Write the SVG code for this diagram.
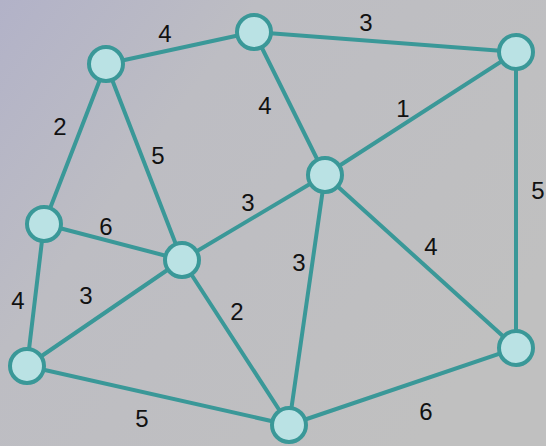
<svg xmlns="http://www.w3.org/2000/svg" width="546" height="446" viewBox="0 0 546 446">
<defs>
<linearGradient id="bg" x1="0" y1="0" x2="1" y2="0.6">
<stop offset="0" stop-color="#b2b2c8"/>
<stop offset="0.35" stop-color="#bdbdc3"/>
<stop offset="1" stop-color="#c0c0c0"/>
</linearGradient>
<style>
.e{stroke:#3a9898;stroke-width:4;fill:none;stroke-linecap:round}
.n{fill:#bae2e4;stroke:#3a9898;stroke-width:4}
.l{font-family:"Liberation Sans",Arial,sans-serif;font-size:24px;fill:#111;text-anchor:middle}
</style>
</defs>
<rect width="546" height="446" fill="url(#bg)"/>
<g id="connectors">
<line class="e" x1="106" y1="64" x2="254" y2="32"/>
<line class="e" x1="254" y1="32" x2="516" y2="52"/>
<line class="e" x1="106" y1="64" x2="44" y2="224"/>
<line class="e" x1="106" y1="64" x2="182" y2="260"/>
<line class="e" x1="254" y1="32" x2="325" y2="175"/>
<line class="e" x1="516" y1="52" x2="325" y2="175"/>
<line class="e" x1="516" y1="52" x2="516" y2="348"/>
<line class="e" x1="44" y1="224" x2="182" y2="260"/>
<line class="e" x1="325" y1="175" x2="182" y2="260"/>
<line class="e" x1="44" y1="224" x2="27" y2="366"/>
<line class="e" x1="182" y1="260" x2="27" y2="366"/>
<line class="e" x1="182" y1="260" x2="289" y2="425"/>
<line class="e" x1="325" y1="175" x2="289" y2="425"/>
<line class="e" x1="325" y1="175" x2="516" y2="348"/>
<line class="e" x1="27" y1="366" x2="289" y2="425"/>
<line class="e" x1="289" y1="425" x2="516" y2="348"/>
</g>
<g id="labels">
<text class="l" x="165" y="42">4</text>
<text class="l" x="366" y="31">3</text>
<text class="l" x="60" y="135">2</text>
<text class="l" x="158" y="164">5</text>
<text class="l" x="265" y="114">4</text>
<text class="l" x="403" y="117">1</text>
<text class="l" x="538" y="199">5</text>
<text class="l" x="248" y="211">3</text>
<text class="l" x="106" y="235">6</text>
<text class="l" x="18" y="309">4</text>
<text class="l" x="86" y="304">3</text>
<text class="l" x="237" y="320">2</text>
<text class="l" x="299" y="271">3</text>
<text class="l" x="431" y="255">4</text>
<text class="l" x="142" y="427">5</text>
<text class="l" x="426" y="420">6</text>
</g>
<g id="nA"><circle class="n" cx="106" cy="64" r="17"/></g>
<g id="nB"><circle class="n" cx="254" cy="32" r="17"/></g>
<g id="nC"><circle class="n" cx="516" cy="52" r="17"/></g>
<g id="nD"><circle class="n" cx="325" cy="175" r="17"/></g>
<g id="nE"><circle class="n" cx="44" cy="224" r="17"/></g>
<g id="nF"><circle class="n" cx="182" cy="260" r="17"/></g>
<g id="nG"><circle class="n" cx="27" cy="366" r="17"/></g>
<g id="nH"><circle class="n" cx="289" cy="425" r="17"/></g>
<g id="nI"><circle class="n" cx="516" cy="348" r="17"/></g>
</svg>
